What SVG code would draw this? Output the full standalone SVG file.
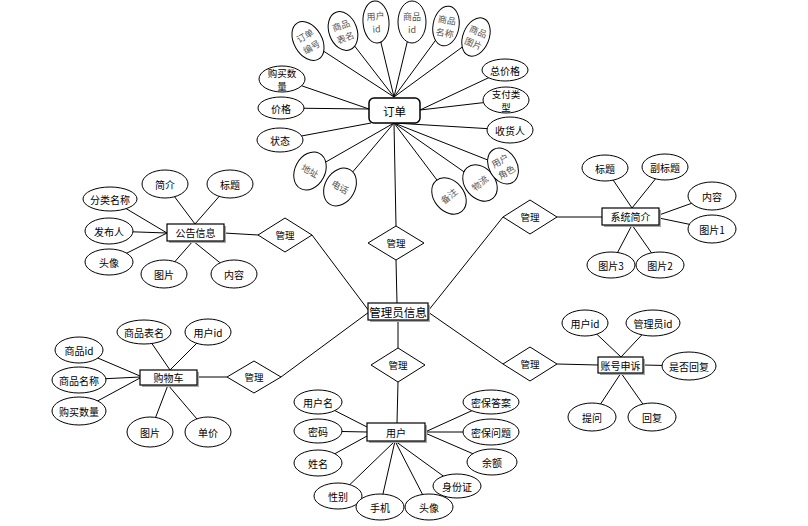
<svg xmlns="http://www.w3.org/2000/svg" width="808" height="526" viewBox="0 0 808 526">
<style>
text{font-family:"Noto Sans CJK SC","Liberation Sans",sans-serif;font-size:10px;fill:#000;text-anchor:middle;dominant-baseline:central}
.g text{fill:#555;font-size:9px}
.two{font-size:9.5px}
ellipse{fill:#fff;stroke:#000;stroke-width:1}
.ent{fill:#fff;stroke:#000;stroke-width:1.2}
.sh{fill:#a8a8a8;stroke:none}
.dia{fill:#fff;stroke:#000;stroke-width:1}
.dia+text{font-size:9.5px}
#connectors line{stroke:#000;stroke-width:1}
</style>
<rect width="808" height="526" fill="#fff"/>
<g id="connectors">
<line x1="308" y1="41" x2="394" y2="97"/>
<line x1="343" y1="31" x2="394" y2="97"/>
<line x1="376" y1="22" x2="394" y2="97"/>
<line x1="412" y1="22" x2="394" y2="97"/>
<line x1="446" y1="26" x2="394" y2="97"/>
<line x1="476" y1="37" x2="394" y2="97"/>
<line x1="282" y1="79" x2="369" y2="109"/>
<line x1="281" y1="108" x2="369" y2="109"/>
<line x1="280" y1="140" x2="371" y2="123"/>
<line x1="310" y1="171" x2="394" y2="123"/>
<line x1="340" y1="187" x2="394" y2="123"/>
<line x1="449" y1="196" x2="394" y2="123"/>
<line x1="480" y1="183" x2="394" y2="123"/>
<line x1="503" y1="166" x2="394" y2="123"/>
<line x1="510" y1="130" x2="394" y2="123"/>
<line x1="505" y1="70" x2="420" y2="110"/>
<line x1="506" y1="100" x2="420" y2="110"/>
<line x1="394" y1="123" x2="396" y2="226"/>
<line x1="396" y1="260" x2="397" y2="303"/>
<line x1="312" y1="235" x2="369" y2="311"/>
<line x1="258" y1="235" x2="224" y2="233"/>
<line x1="281" y1="377" x2="369" y2="312"/>
<line x1="227" y1="377" x2="197" y2="377"/>
<line x1="503" y1="217" x2="428" y2="311"/>
<line x1="557" y1="217" x2="602" y2="217"/>
<line x1="503" y1="364" x2="428" y2="312"/>
<line x1="557" y1="364" x2="598" y2="365"/>
<line x1="398" y1="320" x2="398" y2="348"/>
<line x1="398" y1="382" x2="397" y2="423"/>
<line x1="165" y1="184" x2="195" y2="224"/>
<line x1="230" y1="184" x2="195" y2="224"/>
<line x1="110" y1="199" x2="167" y2="233"/>
<line x1="109" y1="231" x2="167" y2="233"/>
<line x1="109" y1="262" x2="167" y2="233"/>
<line x1="164" y1="274" x2="193" y2="241"/>
<line x1="234" y1="274" x2="193" y2="241"/>
<line x1="79" y1="350" x2="140" y2="376"/>
<line x1="79" y1="380" x2="140" y2="377"/>
<line x1="79" y1="411" x2="140" y2="378"/>
<line x1="144" y1="332" x2="170" y2="370"/>
<line x1="208" y1="332" x2="170" y2="370"/>
<line x1="150" y1="432" x2="168" y2="385"/>
<line x1="208" y1="432" x2="168" y2="385"/>
<line x1="605" y1="168" x2="632" y2="208"/>
<line x1="665" y1="167" x2="632" y2="208"/>
<line x1="712" y1="196" x2="659" y2="215"/>
<line x1="712" y1="229" x2="659" y2="218"/>
<line x1="611" y1="265" x2="632" y2="225"/>
<line x1="660" y1="265" x2="632" y2="225"/>
<line x1="585" y1="323" x2="621" y2="357"/>
<line x1="653" y1="323" x2="621" y2="357"/>
<line x1="689" y1="366" x2="643" y2="365"/>
<line x1="592" y1="417" x2="621" y2="373"/>
<line x1="652" y1="417" x2="621" y2="373"/>
<line x1="318" y1="402" x2="367" y2="427"/>
<line x1="318" y1="431" x2="367" y2="432"/>
<line x1="318" y1="463" x2="367" y2="436"/>
<line x1="338" y1="496" x2="395" y2="441"/>
<line x1="380" y1="507" x2="395" y2="441"/>
<line x1="429" y1="507" x2="395" y2="441"/>
<line x1="457" y1="486" x2="395" y2="441"/>
<line x1="492" y1="462" x2="425" y2="433"/>
<line x1="491" y1="432" x2="425" y2="432"/>
<line x1="491" y1="402" x2="425" y2="432"/>
</g>

<g id="rel-top"><polygon class="dia" points="396,226 424,243 396,260 368,243"/><text x="396" y="243">管理</text></g>
<g id="rel-notice"><polygon class="dia" points="285,218 312,235 285,252 258,235"/><text x="285" y="235">管理</text></g>
<g id="rel-cart"><polygon class="dia" points="254,361 281,377 254,393 227,377"/><text x="254" y="377">管理</text></g>
<g id="rel-intro"><polygon class="dia" points="530,200 557,217 530,234 503,217"/><text x="530" y="217">管理</text></g>
<g id="rel-appeal"><polygon class="dia" points="530,347 557,364 530,381 503,364"/><text x="530" y="364">管理</text></g>
<g id="rel-user"><polygon class="dia" points="398,348 425,365 398,382 371,365"/><text x="398" y="365">管理</text></g>

<g id="admin"><rect class="sh" x="370" y="305" width="60" height="17"/><rect class="ent" x="368" y="303" width="60" height="17"/><text x="398" y="311.5" style="font-size:11.5px">管理员信息</text></g>
<g id="order"><rect class="ent" x="369" y="98" width="51" height="25" rx="5" style="stroke-width:1.5"/><text x="394.5" y="110.5" style="font-size:11.5px">订单</text></g>
<g id="notice"><rect class="sh" x="169" y="226" width="57" height="17"/><rect class="ent" x="167" y="224" width="57" height="17"/><text x="195.5" y="232.5">公告信息</text></g>
<g id="cart"><rect class="sh" x="142" y="372" width="57" height="15"/><rect class="ent" x="140" y="370" width="57" height="15"/><text x="168.5" y="377.5">购物车</text></g>
<g id="intro"><rect class="sh" x="604" y="210" width="57" height="17"/><rect class="ent" x="602" y="208" width="57" height="17"/><text x="630.5" y="216.5">系统简介</text></g>
<g id="appeal"><rect class="sh" x="600" y="359" width="45" height="16"/><rect class="ent" x="598" y="357" width="45" height="16"/><text x="620.5" y="365">账号申诉</text></g>
<g id="user"><rect class="sh" x="369" y="425" width="58" height="18"/><rect class="ent" x="367" y="423" width="58" height="18"/><text x="396" y="432">用户</text></g>

<g id="o-no" class="g" transform="translate(308,41) rotate(-30)"><ellipse rx="14" ry="21"/><text y="-6">订单</text><text y="7">编号</text></g>
<g id="o-table" class="g" transform="translate(343,31) rotate(-20)"><ellipse rx="14" ry="20"/><text y="-6">商品</text><text y="7">表名</text></g>
<g id="o-uid" class="g" transform="translate(376,22) rotate(-4)"><ellipse rx="13" ry="21"/><text y="-6">用户</text><text y="7">id</text></g>
<g id="o-pid" class="g" transform="translate(412,22)"><ellipse rx="14" ry="21"/><text y="-6">商品</text><text y="7">id</text></g>
<g id="o-pname" class="g" transform="translate(446,26) rotate(10)"><ellipse rx="13" ry="20"/><text y="-6">商品</text><text y="7">名称</text></g>
<g id="o-pimg" class="g" transform="translate(476,37) rotate(22)"><ellipse rx="13" ry="20"/><text y="-6">商品</text><text y="7">图片</text></g>
<g id="o-qty"><ellipse cx="282" cy="79" rx="23" ry="13"/><text class="two" x="282" y="72.5">购买数</text><text class="two" x="282" y="85.5">量</text></g>
<g id="o-price"><ellipse cx="281" cy="108" rx="23" ry="11"/><text x="281" y="108">价格</text></g>
<g id="o-state"><ellipse cx="280" cy="140" rx="23" ry="12"/><text x="280" y="140">状态</text></g>
<g id="o-addr" class="g" transform="translate(310,171) rotate(28)"><ellipse rx="15" ry="20"/><text>地址</text></g>
<g id="o-tel" class="g" transform="translate(340,187) rotate(30)"><ellipse rx="15" ry="20"/><text>电话</text></g>
<g id="o-note" class="g" transform="translate(449,196) rotate(-40)"><ellipse rx="15" ry="20"/><text>备注</text></g>
<g id="o-logi" class="g" transform="translate(480,183) rotate(-40)"><ellipse rx="15" ry="20"/><text>物流</text></g>
<g id="o-role" class="g" transform="translate(503,166) rotate(-30)"><ellipse rx="14" ry="19"/><text y="-6">用户</text><text y="7">角色</text></g>
<g id="o-recv"><ellipse cx="510" cy="130" rx="23" ry="13"/><text x="510" y="130">收货人</text></g>
<g id="o-total"><ellipse cx="505" cy="70" rx="23" ry="11"/><text x="505" y="70">总价格</text></g>
<g id="o-pay"><ellipse cx="506" cy="100" rx="23" ry="13"/><text class="two" x="506" y="93.5">支付类</text><text class="two" x="506" y="106.5">型</text></g>

<g id="n-intro"><ellipse cx="165" cy="184" rx="23" ry="14"/><text x="165" y="184">简介</text></g>
<g id="n-title"><ellipse cx="230" cy="184" rx="23" ry="14"/><text x="230" y="184">标题</text></g>
<g id="n-cat"><ellipse cx="110" cy="199" rx="27" ry="12"/><text x="110" y="199">分类名称</text></g>
<g id="n-pub"><ellipse cx="109" cy="231" rx="24" ry="13"/><text x="109" y="231">发布人</text></g>
<g id="n-avatar"><ellipse cx="109" cy="262" rx="24" ry="13"/><text x="109" y="262">头像</text></g>
<g id="n-img"><ellipse cx="164" cy="274" rx="23" ry="14"/><text x="164" y="274">图片</text></g>
<g id="n-content"><ellipse cx="234" cy="274" rx="23" ry="14"/><text x="234" y="274">内容</text></g>

<g id="c-pid"><ellipse cx="79" cy="350" rx="24" ry="13"/><text x="79" y="350">商品id</text></g>
<g id="c-pname"><ellipse cx="79" cy="380" rx="27" ry="13"/><text x="79" y="380">商品名称</text></g>
<g id="c-qty"><ellipse cx="79" cy="411" rx="27" ry="14"/><text x="79" y="411">购买数量</text></g>
<g id="c-table"><ellipse cx="144" cy="332" rx="27" ry="12"/><text x="144" y="332">商品表名</text></g>
<g id="c-uid"><ellipse cx="208" cy="332" rx="23" ry="13"/><text x="208" y="332">用户id</text></g>
<g id="c-img"><ellipse cx="150" cy="432" rx="23" ry="15"/><text x="150" y="432">图片</text></g>
<g id="c-price"><ellipse cx="208" cy="432" rx="23" ry="15"/><text x="208" y="432">单价</text></g>

<g id="s-title"><ellipse cx="605" cy="168" rx="23" ry="13"/><text x="605" y="168">标题</text></g>
<g id="s-sub"><ellipse cx="665" cy="167" rx="23" ry="13"/><text x="665" y="167">副标题</text></g>
<g id="s-content"><ellipse cx="712" cy="196" rx="24" ry="14"/><text x="712" y="196">内容</text></g>
<g id="s-img1"><ellipse cx="712" cy="229" rx="24" ry="14"/><text x="712" y="229">图片1</text></g>
<g id="s-img3"><ellipse cx="611" cy="265" rx="24" ry="13"/><text x="611" y="265">图片3</text></g>
<g id="s-img2"><ellipse cx="660" cy="265" rx="24" ry="13"/><text x="660" y="265">图片2</text></g>

<g id="a-uid"><ellipse cx="585" cy="323" rx="23" ry="13"/><text x="585" y="323">用户id</text></g>
<g id="a-aid"><ellipse cx="653" cy="323" rx="27" ry="13"/><text x="653" y="323">管理员id</text></g>
<g id="a-replied"><ellipse cx="689" cy="366" rx="27" ry="14"/><text x="689" y="366">是否回复</text></g>
<g id="a-ask"><ellipse cx="592" cy="417" rx="24" ry="14"/><text x="592" y="417">提问</text></g>
<g id="a-reply"><ellipse cx="652" cy="417" rx="24" ry="14"/><text x="652" y="417">回复</text></g>

<g id="u-name"><ellipse cx="318" cy="402" rx="24" ry="12"/><text x="318" y="402">用户名</text></g>
<g id="u-pwd"><ellipse cx="318" cy="431" rx="24" ry="12"/><text x="318" y="431">密码</text></g>
<g id="u-real"><ellipse cx="318" cy="463" rx="24" ry="13"/><text x="318" y="463">姓名</text></g>
<g id="u-sex"><ellipse cx="338" cy="496" rx="24" ry="13"/><text x="338" y="496">性别</text></g>
<g id="u-phone"><ellipse cx="380" cy="507" rx="24" ry="13"/><text x="380" y="507">手机</text></g>
<g id="u-avatar"><ellipse cx="429" cy="507" rx="24" ry="13"/><text x="429" y="507">头像</text></g>
<g id="u-idcard"><ellipse cx="457" cy="486" rx="24" ry="12"/><text x="457" y="486">身份证</text></g>
<g id="u-balance"><ellipse cx="492" cy="462" rx="25" ry="13"/><text x="492" y="462">余额</text></g>
<g id="u-q"><ellipse cx="491" cy="432" rx="28" ry="13"/><text x="491" y="432">密保问题</text></g>
<g id="u-a"><ellipse cx="491" cy="402" rx="28" ry="12"/><text x="491" y="402">密保答案</text></g>
</svg>
